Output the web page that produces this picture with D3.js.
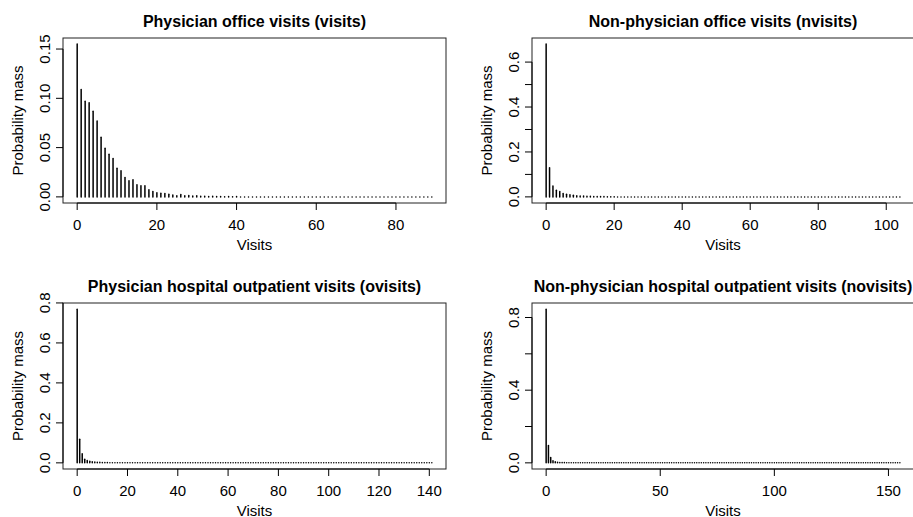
<!DOCTYPE html>
<html>
<head>
<meta charset="utf-8">
<script src="https://cdn.jsdelivr.net/npm/d3@7"></script>
<style>
  html, body { margin: 0; padding: 0; background: #fff; }
  svg { display: block; font-family: "Liberation Sans", Arial, Helvetica, sans-serif; }
</style>
</head>
<body>
<svg id="chart" width="913" height="517"></svg>
<script>
// Empirical probability mass of each count variable; index = number of visits.
// Counts past the end of each list are too rare to show any height and are drawn
// as zero-height stems up to the largest observed count.
const visitsPmf = [0.155, 0.109, 0.097, 0.0954, 0.087, 0.0769, 0.0606, 0.0493, 0.0432, 0.0389,
  0.0291, 0.0264, 0.0196, 0.0164, 0.0173, 0.0122, 0.0112, 0.0112, 0.0072, 0.0055,
  0.0042, 0.0038, 0.0034, 0.0028, 0.0019, 0.0012, 0.0024, 0.0011, 0.0014, 0.0009,
  0.0011, 0.0007, 0.0007, 0.0005, 0.0007, 0.0005, 0.0005, 0.0002, 0.0005, 0.0002, 0.0005];
const visitsMax = 89;

const nvisitsPmf = [0.680, 0.130, 0.049, 0.029, 0.024, 0.015, 0.012, 0.009, 0.007, 0.005,
  0.004, 0.0035, 0.003, 0.0025, 0.002, 0.0017, 0.0014, 0.0012, 0.001, 0.0008, 0.0007];
const nvisitsMax = 104;

const ovisitsPmf = [0.769, 0.118, 0.046, 0.018, 0.012, 0.008, 0.0055, 0.004, 0.003, 0.0025,
  0.002, 0.0016, 0.0014, 0.0011, 0.0009, 0.0007, 0.0007, 0.0005, 0.0005, 0.0005];
const ovisitsMax = 141;

const novisitsPmf = [0.846, 0.095, 0.030, 0.011, 0.006, 0.0035, 0.0025, 0.002, 0.0015, 0.0011,
  0.0009, 0.0007, 0.0005, 0.0005, 0.0005];
const novisitsMax = 155;

// Axis ticks and their labels ("" = tick without a label)
const visitsXTicks = [0, 20, 40, 60, 80];
const visitsYTicks = [0, 0.05, 0.10, 0.15];
const visitsYLabels = ["0.00", "0.05", "0.10", "0.15"];

const nvisitsXTicks = [0, 20, 40, 60, 80, 100];
const nvisitsYTicks = [0, 0.1, 0.2, 0.3, 0.4, 0.5, 0.6];
const nvisitsYLabels = ["0.0", "", "0.2", "", "0.4", "", "0.6"];

const ovisitsXTicks = [0, 20, 40, 60, 80, 100, 120, 140];
const ovisitsYTicks = [0, 0.2, 0.4, 0.6, 0.8];
const ovisitsYLabels = ["0.0", "0.2", "0.4", "0.6", "0.8"];

const novisitsXTicks = [0, 50, 100, 150];
const novisitsYTicks = [0, 0.2, 0.4, 0.6, 0.8];
const novisitsYLabels = ["0.0", "", "0.4", "", "0.8"];

const titles = [
  "Physician office visits (visits)",
  "Non-physician office visits (nvisits)",
  "Physician hospital outpatient visits (ovisits)",
  "Non-physician hospital outpatient visits (novisits)"
];
const xTitle = "Visits";
const yTitle = "Probability mass";

const panels = [
  { title: titles[0], pmf: visitsPmf, max: visitsMax, xTicks: visitsXTicks, yTicks: visitsYTicks, yLabels: visitsYLabels,
    box: { l: 63, r: 446, t: 38, b: 203 } },
  { title: titles[1], pmf: nvisitsPmf, max: nvisitsMax, xTicks: nvisitsXTicks, yTicks: nvisitsYTicks, yLabels: nvisitsYLabels,
    box: { l: 532, r: 914, t: 38, b: 203 } },
  { title: titles[2], pmf: ovisitsPmf, max: ovisitsMax, xTicks: ovisitsXTicks, yTicks: ovisitsYTicks, yLabels: ovisitsYLabels,
    box: { l: 63, r: 446, t: 303, b: 469 } },
  { title: titles[3], pmf: novisitsPmf, max: novisitsMax, xTicks: novisitsXTicks, yTicks: novisitsYTicks, yLabels: novisitsYLabels,
    box: { l: 532, r: 914, t: 303, b: 469 } }
];

const svg = d3.select("#chart");
const TICK = 7;

panels.forEach(p => {
  const { l, r, t, b } = p.box;
  const pmax = d3.max(p.pmf);
  // 4% padding on both ends of each axis
  const x = d3.scaleLinear().domain([-0.04 * p.max, 1.04 * p.max]).range([l, r]);
  const y = d3.scaleLinear().domain([-0.04 * pmax, 1.04 * pmax]).range([b, t]);
  const g = svg.append("g");

  // stems, one per count value
  const counts = d3.range(0, p.max + 1);
  g.append("g")
    .selectAll("path")
    .data(counts)
    .join("path")
    .attr("d", i => `M${x(i)},${y(0)}V${y(p.pmf[i] || 0)}`)
    .attr("stroke", "#000")
    .attr("stroke-width", 1.5)
    .attr("stroke-linecap", "round")
    .attr("fill", "none");

  // plot frame
  g.append("rect")
    .attr("x", l).attr("y", t)
    .attr("width", r - l).attr("height", b - t)
    .attr("fill", "none")
    .attr("stroke", "#222")
    .attr("stroke-width", 1);

  // x axis
  const xa = g.append("g");
  xa.append("line")
    .attr("x1", x(p.xTicks[0])).attr("x2", x(p.xTicks[p.xTicks.length - 1]))
    .attr("y1", b).attr("y2", b)
    .attr("stroke", "#000");
  xa.selectAll("line.tick").data(p.xTicks).join("line")
    .attr("class", "tick")
    .attr("x1", d => x(d)).attr("x2", d => x(d))
    .attr("y1", b).attr("y2", b + TICK)
    .attr("stroke", "#000");
  xa.selectAll("text").data(p.xTicks).join("text")
    .attr("x", d => x(d)).attr("y", b + 26.5)
    .attr("text-anchor", "middle")
    .attr("font-size", 15)
    .text(d => d);

  // y axis
  const ya = g.append("g");
  ya.append("line")
    .attr("x1", l).attr("x2", l)
    .attr("y1", y(p.yTicks[0])).attr("y2", y(p.yTicks[p.yTicks.length - 1]))
    .attr("stroke", "#000");
  ya.selectAll("line.tick").data(p.yTicks).join("line")
    .attr("class", "tick")
    .attr("x1", l - TICK).attr("x2", l)
    .attr("y1", d => y(d)).attr("y2", d => y(d))
    .attr("stroke", "#000");
  ya.selectAll("text").data(p.yTicks.map((v, i) => ({ v, s: p.yLabels[i] })).filter(d => d.s !== ""))
    .join("text")
    .attr("transform", d => `translate(${l - 13},${y(d.v)}) rotate(-90)`)
    .attr("text-anchor", "middle")
    .attr("font-size", 15)
    .text(d => d.s);

  // titles
  g.append("text")
    .attr("x", (l + r) / 2).attr("y", t - 11)
    .attr("text-anchor", "middle")
    .attr("font-size", 16)
    .attr("font-weight", "bold")
    .text(p.title);
  g.append("text")
    .attr("x", (l + r) / 2).attr("y", b + 46.5)
    .attr("text-anchor", "middle")
    .attr("font-size", 15)
    .text(xTitle);
  g.append("text")
    .attr("transform", `translate(${l - 40},${(t + b) / 2}) rotate(-90)`)
    .attr("text-anchor", "middle")
    .attr("font-size", 15)
    .text(yTitle);
});
</script>
</body>
</html>
